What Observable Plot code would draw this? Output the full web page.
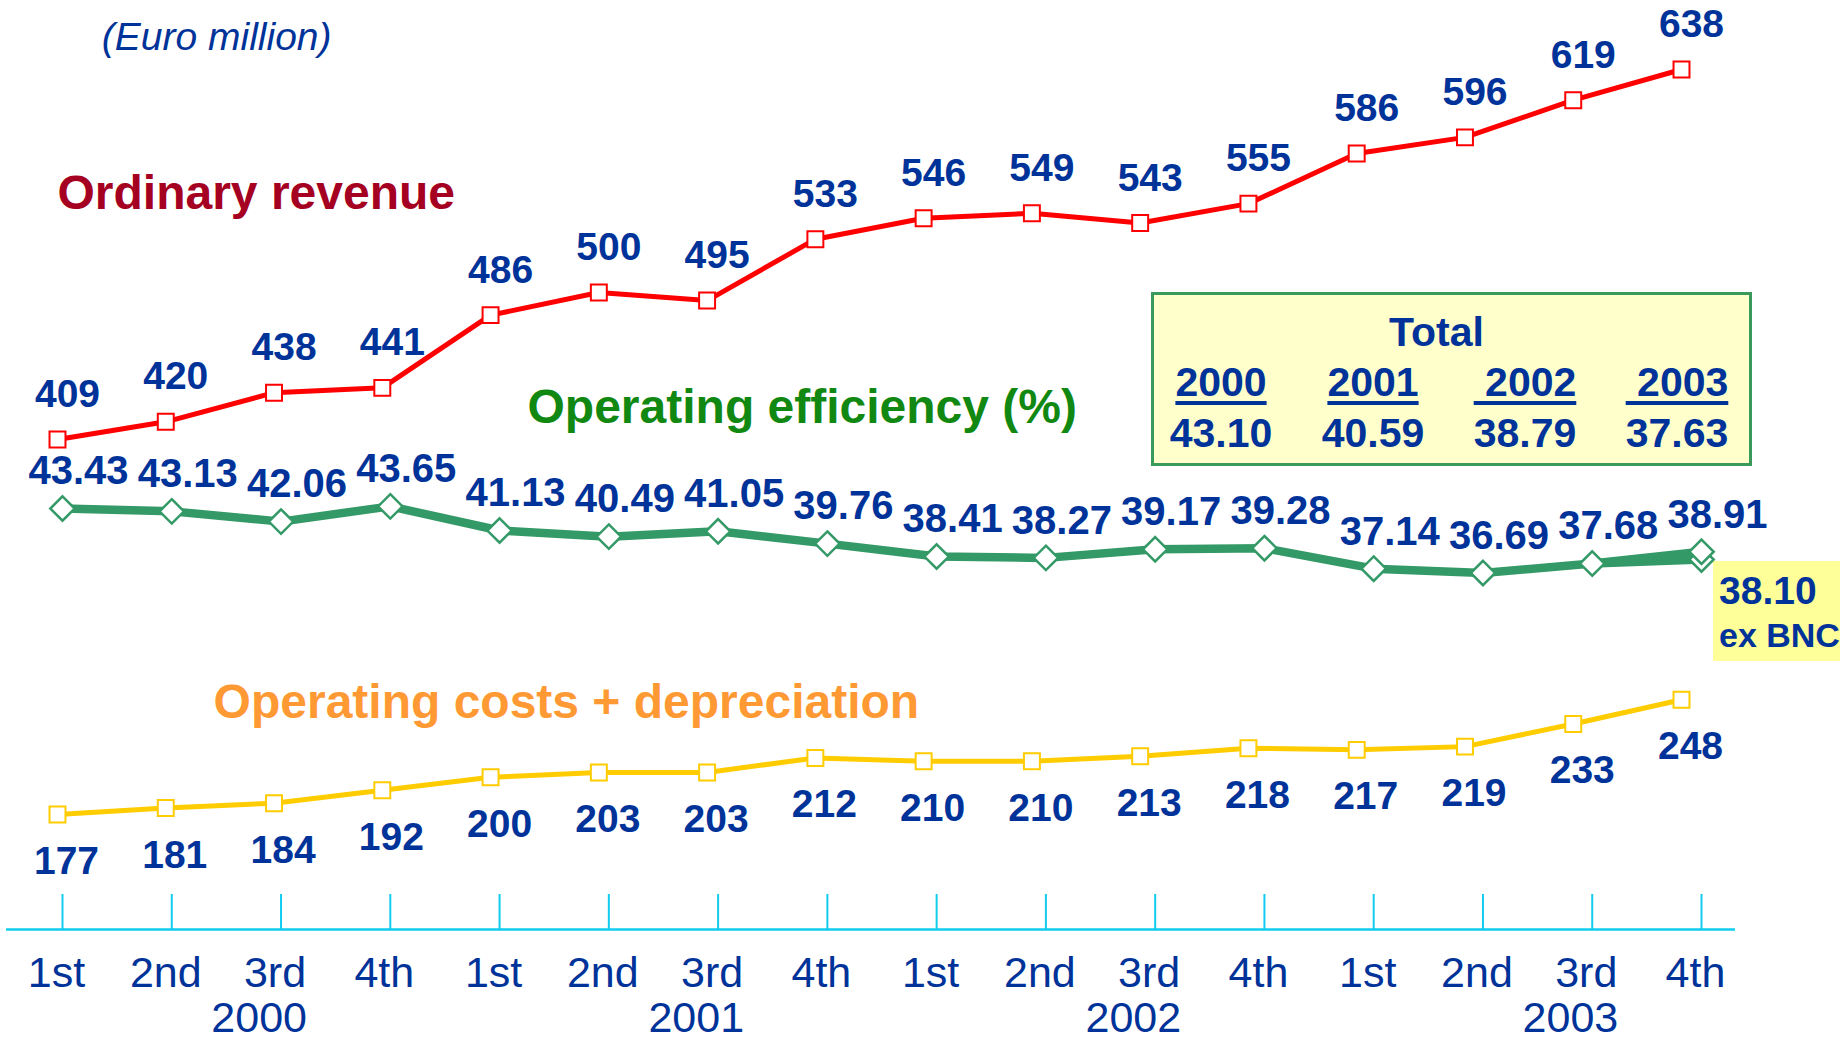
<!DOCTYPE html>
<html>
<head>
<meta charset="utf-8">
<script src="https://cdn.jsdelivr.net/npm/d3@7"></script>
<script src="https://cdn.jsdelivr.net/npm/@observablehq/plot@0.6"></script>
<style>
  html, body { margin: 0; padding: 0; background: #ffffff; overflow: hidden; }
  #wrap { position: relative; width: 1840px; height: 1041px; font-family: Arial, "Liberation Sans", sans-serif; color: #003399; }
  .layer { position: absolute; left: 0; top: 0; width: 1840px; height: 1041px; }
  .layer svg { max-width: none; display: block; }
  #totalBox { position: absolute; left: 1151px; top: 292px; width: 601px; height: 174px; box-sizing: border-box;
              border: 3px solid #3a9a5c; background: #ffffcc; font-weight: bold; font-size: 41px; line-height: 41px; }
  #totalBox .tTitle { position: absolute; left: 0; top: 17px; width: 565px; text-align: center; }
  #totalBox .tRow { position: absolute; left: -9px; display: grid; grid-template-columns: repeat(4, 152px); text-align: center; }
  #totalBox .tYears { top: 67px; }
  #totalBox .tVals { top: 118px; }
  #totalBox u { text-decoration-thickness: 4px; text-underline-offset: 5px; }
  #exBox { position: absolute; left: 1713px; top: 561px; width: 140px; height: 100px; background: #ffff99; font-weight: bold; white-space: nowrap; }
  #exBox .exVal { position: absolute; left: 6px; top: 10px; font-size: 39px; line-height: 39px; }
  #exBox .exNote { position: absolute; left: 6px; top: 57px; font-size: 34px; line-height: 34px; }
</style>
</head>
<body>
<div id="wrap">
  <div id="totalBox"></div>
  <div id="exBox"></div>
  <div class="layer" id="layerAxis"></div>
  <div class="layer" id="layerRevCost"></div>
  <div class="layer" id="layerEff"></div>
</div>
<script>
// ---------------- data ----------------
const years = ["2000", "2001", "2002", "2003"];
const quarterNames = ["1st", "2nd", "3rd", "4th"];
const revenue = [409, 420, 438, 441, 486, 500, 495, 533, 546, 549, 543, 555, 586, 596, 619, 638];
const costs = [177, 181, 184, 192, 200, 203, 203, 212, 210, 210, 213, 218, 217, 219, 233, 248];
const efficiency = [43.43, 43.13, 42.06, 43.65, 41.13, 40.49, 41.05, 39.76, 38.41, 38.27, 39.17, 39.28, 37.14, 36.69, 37.68, 38.91];
const efficiencyExBNC = 38.10;
const exBNCNote = "ex BNC";
const totalYears = ["2000", "2001", "2002", "2003"];
const totalEfficiency = [43.10, 40.59, 38.79, 37.63];

// ---------------- derived tables ----------------
const quarters = years.flatMap((y, yi) => quarterNames.map((q, qi) => ({i: yi * 4 + qi, q, year: y})));
const revData = revenue.map((v, i) => ({i, v}));
const costData = costs.map((v, i) => ({i, v}));
const effData = efficiency.map((v, i) => ({i, v}));
const exData = [{i: 14, v: efficiency[14]}, {i: 15, v: efficiencyExBNC}];
const yearData = years.map((y, yi) => ({year: y, x: yi * 4 + 1.8}));

const FONT = 'Arial, "Liberation Sans", sans-serif';
const BLUE = "#003399";
const baseStyle = {background: "transparent", overflow: "visible", fontFamily: FONT};

// ---------------- axis layer ----------------
const axisPlot = Plot.plot({
  width: 1840, height: 1041,
  marginLeft: 6, marginRight: 105, marginTop: 894, marginBottom: 112,
  x: {type: "linear", domain: [0, 15], insetLeft: 56, insetRight: 34, axis: null},
  y: {domain: [0, 1], axis: null},
  style: baseStyle,
  marks: [
    Plot.ruleY([0], {stroke: "#11ccee", strokeWidth: 2.5}),
    Plot.tickX(quarters, {x: "i", stroke: "#11ccee", strokeWidth: 2}),
    Plot.text(quarters, {x: "i", text: "q", frameAnchor: "bottom", dy: 57, dx: -6, fontSize: 43, fill: BLUE, fontFamily: FONT}),
    Plot.text(yearData, {x: "x", text: "year", frameAnchor: "bottom", dy: 102, fontSize: 43, fill: BLUE, fontFamily: FONT})
  ]
});
document.getElementById("layerAxis").append(axisPlot);

// ---------------- revenue + costs layer (shared euro scale) ----------------
const revCostPlot = Plot.plot({
  width: 1840, height: 1041,
  x: {type: "linear", domain: [0, 15], range: [57, 1681], axis: null},
  y: {domain: [177, 638], range: [814, 69], axis: null},
  style: baseStyle,
  marks: [
    Plot.line(revData, {x: "i", y: "v", stroke: "#ff0000", strokeWidth: 5}),
    Plot.dot(revData, {x: "i", y: "v", symbol: "square", r: 9, fill: "white", stroke: "#ff0000", strokeWidth: 2}),
    Plot.text(revData, {x: "i", y: "v", text: d => String(d.v), dx: 10, dy: -45, fontSize: 39, fontWeight: "bold", fill: BLUE, fontFamily: FONT}),
    Plot.line(costData, {x: "i", y: "v", stroke: "#ffcc00", strokeWidth: 5}),
    Plot.dot(costData, {x: "i", y: "v", symbol: "square", r: 9, fill: "white", stroke: "#ffcc00", strokeWidth: 2}),
    Plot.text(costData, {x: "i", y: "v", text: d => String(d.v), dx: 9, dy: 47, fontSize: 39, fontWeight: "bold", fill: BLUE, fontFamily: FONT}),
    // series titles and unit note
    Plot.text(["Ordinary revenue"], {x: 0, y: 561, text: d => d, textAnchor: "start", fontSize: 48, fontWeight: "bold", fill: "#a50021", fontFamily: FONT}),
    Plot.text(["Operating costs + depreciation"], {x: 4.70, y: 246, text: d => d, fontSize: 48, fontWeight: "bold", fill: "#ff9933", fontFamily: FONT}),
    Plot.text(["(Euro million)"], {x: 1.47, y: 658, text: d => d, fontSize: 39, fontStyle: "italic", fill: BLUE, fontFamily: FONT})
  ]
});
document.getElementById("layerRevCost").append(revCostPlot);

// ---------------- operating efficiency layer (% scale) ----------------
const effPlot = Plot.plot({
  width: 1840, height: 1041,
  x: {type: "linear", domain: [0, 15], range: [62, 1701], axis: null},
  y: {domain: [36.69, 43.43], range: [572.5, 508], axis: null},
  style: baseStyle,
  marks: [
    Plot.line(exData, {x: "i", y: "v", stroke: "#339966", strokeWidth: 8.5}),
    Plot.line(effData, {x: "i", y: "v", stroke: "#339966", strokeWidth: 8.5}),
    Plot.dot(exData.slice(1), {x: "i", y: "v", symbol: "diamond2", r: 11, fill: "white", stroke: "#339966", strokeWidth: 2.5}),
    Plot.dot(effData, {x: "i", y: "v", symbol: "diamond2", r: 11, fill: "white", stroke: "#339966", strokeWidth: 2.5}),
    Plot.text(effData, {x: "i", y: "v", text: d => d.v.toFixed(2), dx: 16, dy: -37, fontSize: 40, fontWeight: "bold", fill: BLUE, fontFamily: FONT}),
    Plot.text(["Operating efficiency (%)"], {x: 6.77, y: 54.0, text: d => d, fontSize: 48, fontWeight: "bold", fill: "#118811", fontFamily: FONT})
  ]
});
document.getElementById("layerEff").append(effPlot);

// ---------------- total box & ex-BNC note ----------------
const tb = document.getElementById("totalBox");
tb.innerHTML =
  `<div class="tTitle">Total</div>` +
  `<div class="tRow tYears">${totalYears.map((y, i) => `<div><u>${i >= 2 ? "&nbsp;" : ""}${y}</u></div>`).join("")}</div>` +
  `<div class="tRow tVals">${totalEfficiency.map(v => `<div>${v.toFixed(2)}</div>`).join("")}</div>`;

const ex = document.getElementById("exBox");
ex.innerHTML = `<div class="exVal">${efficiencyExBNC.toFixed(2)}</div><div class="exNote">${exBNCNote}</div>`;
</script>
</body>
</html>
